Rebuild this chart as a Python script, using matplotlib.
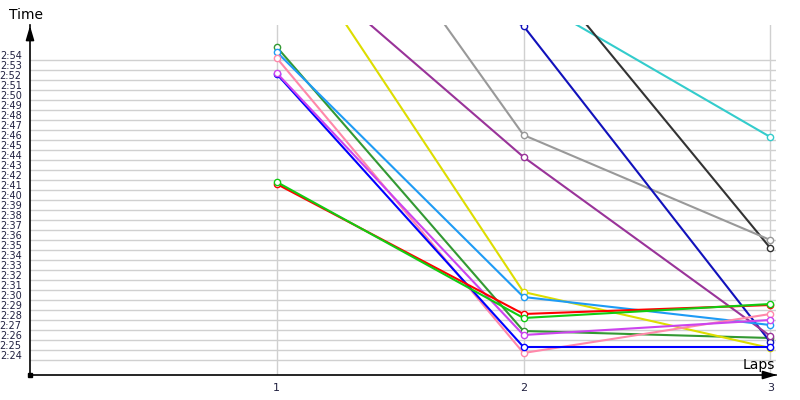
import matplotlib
matplotlib.use('Agg')
import matplotlib.pyplot as plt
import matplotlib.transforms as mtransforms

# lap numbers and lap times (seconds) per driver
laps = [1, 2, 3]
dark_green = [175.3, 146.9, 146.2]
light_blue = [174.8, 150.3, 147.5]
pink = [174.2, 144.7, 148.6]
violet = [172.7, 146.5, 148.0]
blue = [172.6, 145.3, 145.3]
green = [161.8, 148.2, 149.6]
red = [161.6, 148.6, 149.5]
yellow = [188.0, 150.8, 145.2]
purple = [185.6, 164.3, 146.4]
gray = [201.1, 166.5, 156.0]
dark_blue = [190.0, 177.4, 145.8]
black = [195.0, 185.2, 155.2]
turquoise = [192.0, 180.6, 166.3]

series = [
    (turquoise, '#33CCCC'),
    (black, '#333333'),
    (gray, '#999999'),
    (dark_green, '#339933'),
    (dark_blue, '#1111BB'),
    (purple, '#993399'),
    (yellow, '#DDDD00'),
    (light_blue, '#1E9BF5'),
    (pink, '#FF88AA'),
    (blue, '#0000FF'),
    (violet, '#CC44EE'),
    (red, '#FF0000'),
    (green, '#11CC11'),
]

y_ticks = list(range(144, 175))
y_labels = ['%d:%02d' % (t // 60, t % 60) for t in y_ticks]

fig = plt.figure(figsize=(8, 4), dpi=100)
ax = fig.add_axes([30 / 800, 25 / 400, 746 / 800, 350 / 400])

for vals, col in series:
    ax.plot(laps, vals, color=col, linewidth=1.5, marker='o', markersize=4.5,
            markerfacecolor='white', markeredgecolor=col, markeredgewidth=1, zorder=3)

ax.set_xlim(0, 746 / 246.75)
ax.set_ylim(142.5, 177.5)

ax.set_yticks(y_ticks)
ax.set_yticklabels(y_labels)
ax.set_xticks(laps)
ax.set_xticklabels([str(l) for l in laps])
ax.tick_params(axis='y', length=0, pad=6, labelsize=7, labelcolor='#202040')
ax.tick_params(axis='x', length=0, pad=6, labelsize=8, labelcolor='#202040')
offset = mtransforms.ScaledTranslation(0, 5 / 100, fig.dpi_scale_trans)
for lab in ax.get_yticklabels():
    lab.set_transform(lab.get_transform() + offset)

ax.grid(True, color='#d0d0d0', linewidth=1)
ax.set_axisbelow(True)

for s in ['top', 'right']:
    ax.spines[s].set_visible(False)
for s in ['left', 'bottom']:
    ax.spines[s].set_color('black')
    ax.spines[s].set_linewidth(1.2)

# axis arrows
ax.annotate('', xy=(30, 377), xytext=(30, 360), xycoords='figure pixels',
            textcoords='figure pixels',
            arrowprops=dict(arrowstyle='-|>,head_length=0.85,head_width=0.25',
                            color='black', lw=1.2, mutation_scale=10))
ax.annotate('', xy=(780, 25), xytext=(760, 25), xycoords='figure pixels',
            textcoords='figure pixels',
            arrowprops=dict(arrowstyle='-|>,head_length=0.85,head_width=0.25',
                            color='black', lw=1.2, mutation_scale=10))
ax.plot([0], [142.5], marker='s', color='black', markersize=3, clip_on=False, zorder=5)

fig.text(9 / 800, 1 - 15 / 400, 'Time', fontsize=10, ha='left', va='center', color='black')
fig.text(775 / 800, 1 - 365 / 400, 'Laps', fontsize=10, ha='right', va='center', color='black')

fig.savefig('out.png', dpi=100)
